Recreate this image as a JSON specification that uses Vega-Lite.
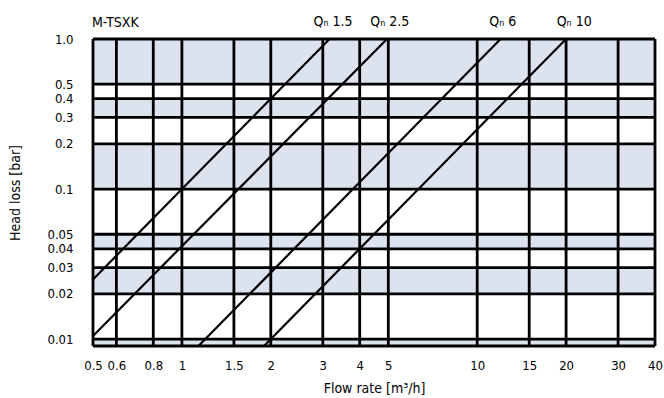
{
  "$schema": "https://vega.github.io/schema/vega-lite/v6.json",
  "width": 562,
  "height": 307,
  "autosize": {"type": "none"},
  "padding": {"left": 93, "top": 39, "right": 9, "bottom": 52},
  "background": "white",
  "config": {
    "view": {"stroke": null},
    "axis": {
      "grid": false, "domain": false, "ticks": false,
      "labelFont": "DejaVu Sans Condensed, sans-serif", "labelFontSize": 13, "labelColor": "black",
      "titleFont": "DejaVu Sans Condensed, sans-serif", "titleFontSize": 14, "titleFontWeight": "normal", "titleColor": "black",
      "labelOverlap": false, "labelBound": false, "labelFlush": false
    }
  },
  "datasets": {
    "bands": [
      {"lo": 0.5, "hi": 1.0},
      {"lo": 0.3, "hi": 0.4},
      {"lo": 0.1, "hi": 0.2},
      {"lo": 0.04, "hi": 0.05},
      {"lo": 0.02, "hi": 0.03},
      {"lo": 0.009, "hi": 0.01}
    ],
    "xgrid": [
      {"x": 0.5}, {"x": 0.6}, {"x": 0.8}, {"x": 1}, {"x": 1.5}, {"x": 2}, {"x": 3}, {"x": 4}, {"x": 5},
      {"x": 10}, {"x": 15}, {"x": 20}, {"x": 30}, {"x": 40}
    ],
    "ygrid": [
      {"y": 1.0}, {"y": 0.5}, {"y": 0.4}, {"y": 0.3}, {"y": 0.2}, {"y": 0.1},
      {"y": 0.05}, {"y": 0.04}, {"y": 0.03}, {"y": 0.02}, {"y": 0.01}, {"y": 0.009}
    ],
    "curves": [
      {"series": "Qn 1.5", "x": 0.5, "y": 0.025},
      {"series": "Qn 1.5", "x": 3.162, "y": 1.0},
      {"series": "Qn 2.5", "x": 0.5, "y": 0.0105},
      {"series": "Qn 2.5", "x": 4.95, "y": 1.0},
      {"series": "Qn 6", "x": 1.138, "y": 0.009},
      {"series": "Qn 6", "x": 12, "y": 1.0},
      {"series": "Qn 10", "x": 1.897, "y": 0.009},
      {"series": "Qn 10", "x": 20, "y": 1.0}
    ],
    "labels": [
      {"label": "Qₙ 1.5", "x": 3.25, "y": 1.0},
      {"label": "Qₙ 2.5", "x": 5.06, "y": 1.0},
      {"label": "Qₙ 6", "x": 12.2, "y": 1.0},
      {"label": "Qₙ 10", "x": 21.3, "y": 1.0}
    ],
    "model": [
      {"label": "M-TSXK", "x": 0.5, "y": 1.0}
    ]
  },
  "layer": [
    {
      "data": {"name": "bands"},
      "mark": {"type": "rect", "color": "#dce3ef"},
      "encoding": {
        "y": {
          "field": "lo", "type": "quantitative",
          "scale": {"type": "log", "domain": [0.009, 1], "nice": false},
          "axis": {
            "values": [1, 0.5, 0.4, 0.3, 0.2, 0.1, 0.05, 0.04, 0.03, 0.02, 0.01],
            "labelExpr": "datum.value == 1 ? '1.0' : format(datum.value, '~g')",
            "labelPadding": 20,
            "title": "Head loss [bar]",
            "titlePadding": 24
          }
        },
        "y2": {"field": "hi"}
      }
    },
    {
      "data": {"name": "xgrid"},
      "mark": {"type": "rule", "color": "black", "strokeWidth": 2.8},
      "encoding": {
        "x": {
          "field": "x", "type": "quantitative",
          "scale": {"type": "log", "domain": [0.5, 40], "nice": false},
          "axis": {
            "values": [0.5, 0.6, 0.8, 1, 1.5, 2, 3, 4, 5, 10, 15, 20, 30, 40],
            "format": "~g",
            "labelPadding": 13,
            "title": "Flow rate [m³/h]",
            "titlePadding": 9
          }
        }
      }
    },
    {
      "data": {"name": "ygrid"},
      "mark": {"type": "rule", "color": "black", "strokeWidth": 2.8},
      "encoding": {
        "y": {
          "field": "y", "type": "quantitative",
          "scale": {"type": "log", "domain": [0.009, 1], "nice": false},
          "axis": {
            "values": [1, 0.5, 0.4, 0.3, 0.2, 0.1, 0.05, 0.04, 0.03, 0.02, 0.01],
            "labelExpr": "datum.value == 1 ? '1.0' : format(datum.value, '~g')",
            "labelPadding": 20,
            "title": "Head loss [bar]",
            "titlePadding": 24
          }
        }
      }
    },
    {
      "data": {"name": "curves"},
      "mark": {"type": "line", "color": "black", "strokeWidth": 2.2},
      "encoding": {
        "x": {
          "field": "x", "type": "quantitative",
          "scale": {"type": "log", "domain": [0.5, 40], "nice": false},
          "axis": {
            "values": [0.5, 0.6, 0.8, 1, 1.5, 2, 3, 4, 5, 10, 15, 20, 30, 40],
            "format": "~g",
            "labelPadding": 13,
            "title": "Flow rate [m³/h]",
            "titlePadding": 9
          }
        },
        "y": {
          "field": "y", "type": "quantitative",
          "scale": {"type": "log", "domain": [0.009, 1], "nice": false},
          "axis": {
            "values": [1, 0.5, 0.4, 0.3, 0.2, 0.1, 0.05, 0.04, 0.03, 0.02, 0.01],
            "labelExpr": "datum.value == 1 ? '1.0' : format(datum.value, '~g')",
            "labelPadding": 20,
            "title": "Head loss [bar]",
            "titlePadding": 24
          }
        },
        "detail": {"field": "series"}
      }
    },
    {
      "data": {"name": "labels"},
      "mark": {"type": "text", "font": "DejaVu Sans Condensed, sans-serif", "fontSize": 14, "color": "black", "baseline": "middle", "align": "center", "dy": -17},
      "encoding": {
        "x": {"field": "x", "type": "quantitative"},
        "y": {"field": "y", "type": "quantitative"},
        "text": {"field": "label"}
      }
    },
    {
      "data": {"name": "model"},
      "mark": {"type": "text", "font": "DejaVu Sans Condensed, sans-serif", "fontSize": 14, "color": "black", "baseline": "middle", "align": "left", "dy": -16, "dx": -1},
      "encoding": {
        "x": {"field": "x", "type": "quantitative"},
        "y": {"field": "y", "type": "quantitative"},
        "text": {"field": "label"}
      }
    }
  ]
}
